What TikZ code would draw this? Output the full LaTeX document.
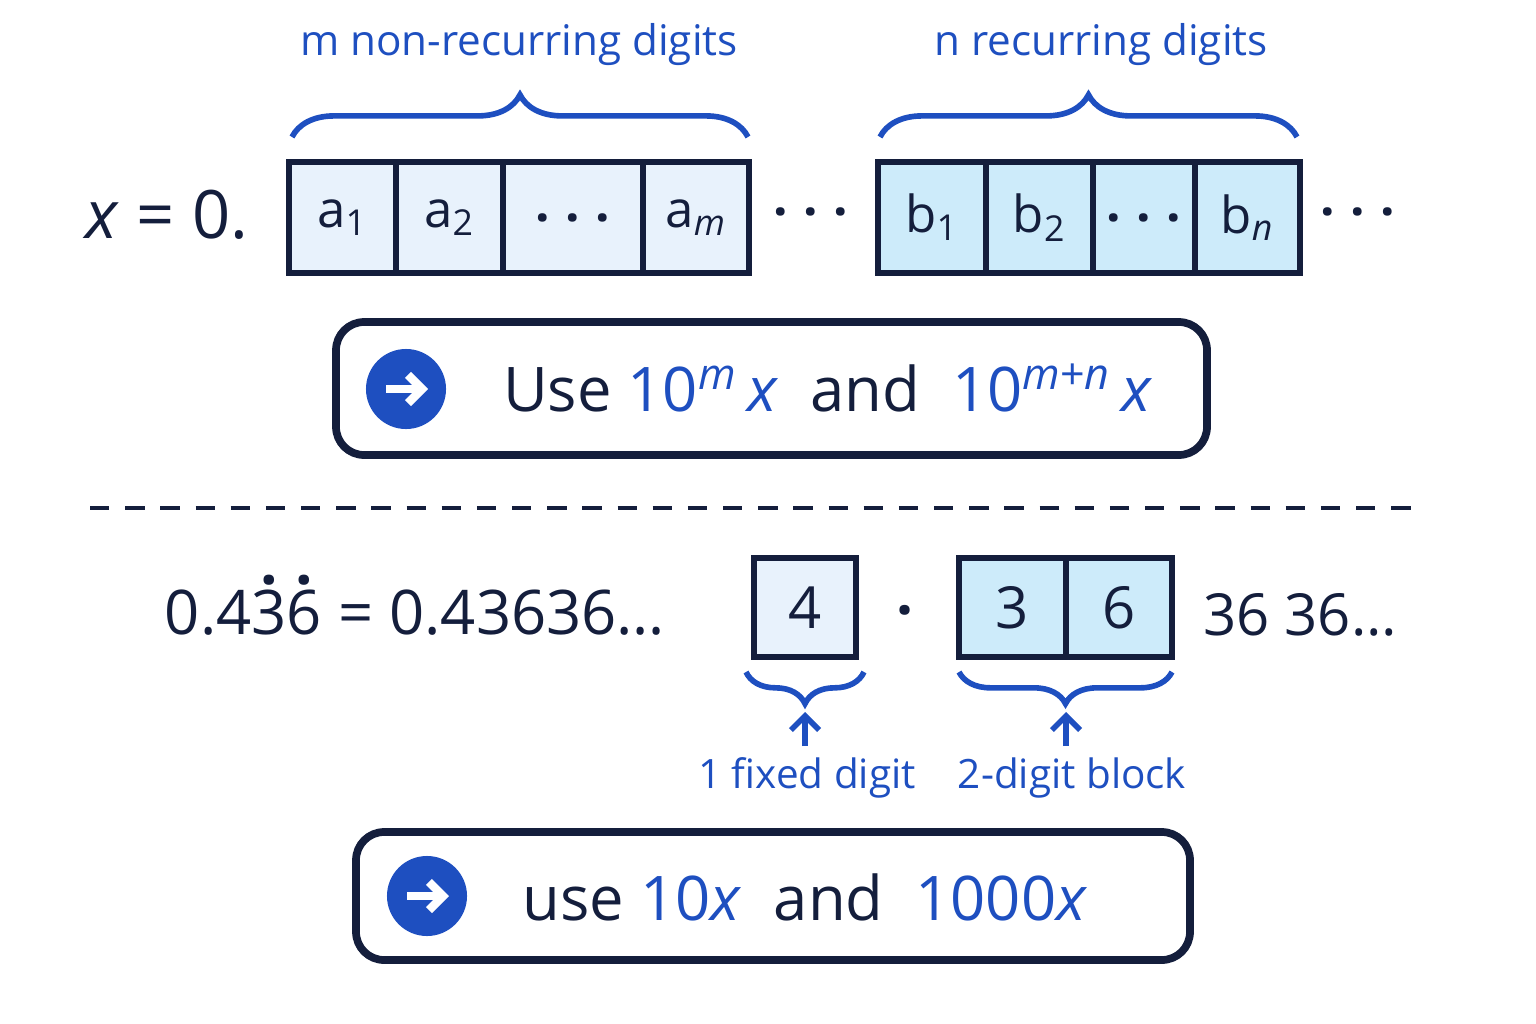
\documentclass[tikz,border=0pt]{standalone}
\usepackage{fontspec}
\setmainfont{Open Sans}
\usetikzlibrary{arrows.meta,decorations.pathreplacing}
\definecolor{navy}{HTML}{141E3C}
\definecolor{accent}{HTML}{1E4FC0}
\definecolor{pale}{HTML}{E8F2FC}
\definecolor{sky}{HTML}{CDEBFA}
\newcommand\rdot[1]{\setbox0\hbox{#1}\rlap{\raisebox{1.12\ht0}{\hbox to\wd0{\hss\textbf{.}\hss}}}#1}
\newcommand\vx{\textit{x}}
\newcommand\dotrow{\textbf{.\hspace{0.3em}.\hspace{0.3em}.}}
\tikzset{
  cell/.style={draw=navy, line width=1.6pt, minimum height=1.11cm, inner sep=0pt, font=\fontsize{14.5}{17}\selectfont, text=navy},
  fixcell/.style={cell, fill=pale},
  repcell/.style={cell, fill=sky},
  brc/.style={decorate, decoration={brace, amplitude=12pt}, draw=accent, line width=1.6pt},
  lbl/.style={text=accent, font=\fontsize{12}{14}\selectfont},
  panel/.style={draw=navy, line width=2.2pt, rounded corners=8pt},
  goicon/.style={circle, fill=accent, minimum size=0.8cm, inner sep=0pt}
}
\begin{document}
\begin{tikzpicture}[x=0.01cm, y=-0.01cm]
  \useasboundingbox (0,0) rectangle (1536,1024);

  % Top row
  \node[text=navy, font=\fontsize{19}{22}\selectfont] (xeq) at (167,215) {\vx{} = 0.};
  \node[fixcell, minimum width=1.07cm] (a1) at (342.5,217.5) {a\textsubscript{1}};
  \node[fixcell, minimum width=1.07cm] (a2) at (449.5,217.5) {a\textsubscript{2}};
  \node[fixcell, minimum width=1.40cm] (ad) at (573,217.5) {\dotrow};
  \node[fixcell, minimum width=1.06cm] (am) at (696,217.5) {a\textsubscript{\textit{m}}};
  \node[text=navy, font=\fontsize{14.5}{17}\selectfont] (gap) at (811,212) {\dotrow};
  \node[repcell, minimum width=1.08cm] (b1) at (932,217.5) {b\textsubscript{1}};
  \node[repcell, minimum width=1.07cm] (b2) at (1039.5,217.5) {b\textsubscript{2}};
  \node[repcell, minimum width=1.02cm] (bd) at (1144,217.5) {\dotrow};
  \node[repcell, minimum width=1.05cm] (bn) at (1247.5,217.5) {b\textsubscript{\textit{n}}};
  \node[text=navy, font=\fontsize{14.5}{17}\selectfont] (tail) at (1358,212) {\dotrow};

  % Braces above
  \draw[brc] (292,137) -- (748,137);
  \draw[brc] (880,137) -- (1297,137);
  \node[lbl] (mlbl) at (519,45) {m non-recurring digits};
  \node[lbl] (nlbl) at (1101,45) {n recurring digits};

  % First panel
  \draw[panel] (336,322) rectangle (1207,455);
  \node[goicon] (go1) at (406,389) {};
  \draw[white, line width=2.4pt, -{Straight Barb[length=4pt]}] (386,389) -- (428,389);
  \node[text=navy, font=\fontsize{17.5}{21}\selectfont] (rule1) at (828,388)
    {Use \textcolor{accent}{10\textsuperscript{\textit{m}}\,\vx} \ and \ \textcolor{accent}{10\textsuperscript{\textit{m}+\textit{n}}\,\vx}};

  % Separator
  \draw[navy, line width=1.4pt, dash pattern=on 5.5pt off 4.5pt] (90,508) -- (1425,508);

  % Example row
  \node[text=navy, font=\fontsize{17.5}{21}\selectfont] (ex) at (415,605) {0.4\rdot{3}\rdot{6} = 0.43636\dots};
  \node[fixcell, minimum width=1.02cm, minimum height=0.99cm, font=\fontsize{16.5}{20}\selectfont] (c4) at (805,607.5) {4};
  \node[text=navy, font=\fontsize{17}{20}\selectfont] (pt) at (905,610) {\textbf{.}};
  \node[repcell, minimum width=1.07cm, minimum height=0.99cm, font=\fontsize{16.5}{20}\selectfont] (c3) at (1012.5,607.5) {3};
  \node[repcell, minimum width=1.06cm, minimum height=0.99cm, font=\fontsize{16.5}{20}\selectfont] (c6) at (1119,607.5) {6};
  \node[text=navy, font=\fontsize{16.5}{20}\selectfont] (rest) at (1300,615) {36 36\dots};

  % Braces below
  \draw[brc, decoration={mirror, amplitude=9pt}] (746,672) -- (864,672);
  \draw[brc, decoration={mirror, amplitude=9pt}] (959,672) -- (1172,672);
  \coordinate (p1) at (805,746);
  \coordinate (p2) at (1066,746);
  \draw[accent, line width=1.6pt, -{Straight Barb[length=4pt]}] (p1) -- (805,712);
  \draw[accent, line width=1.6pt, -{Straight Barb[length=4pt]}] (p2) -- (1066,712);
  \node[lbl, font=\fontsize{11.5}{14}\selectfont] (fx) at (807,778) {1 fixed digit};
  \node[lbl, font=\fontsize{11.5}{14}\selectfont] (bk) at (1072,778) {2-digit block};

  % Second panel
  \draw[panel] (356,832) rectangle (1190,960);
  \node[goicon] (go2) at (427,896) {};
  \draw[white, line width=2.4pt, -{Straight Barb[length=4pt]}] (407,896) -- (449,896);
  \node[text=navy, font=\fontsize{17.5}{21}\selectfont] (rule2) at (805,897)
    {use \textcolor{accent}{10\vx} \ and \ \textcolor{accent}{1000\vx}};
\end{tikzpicture}
\end{document}
